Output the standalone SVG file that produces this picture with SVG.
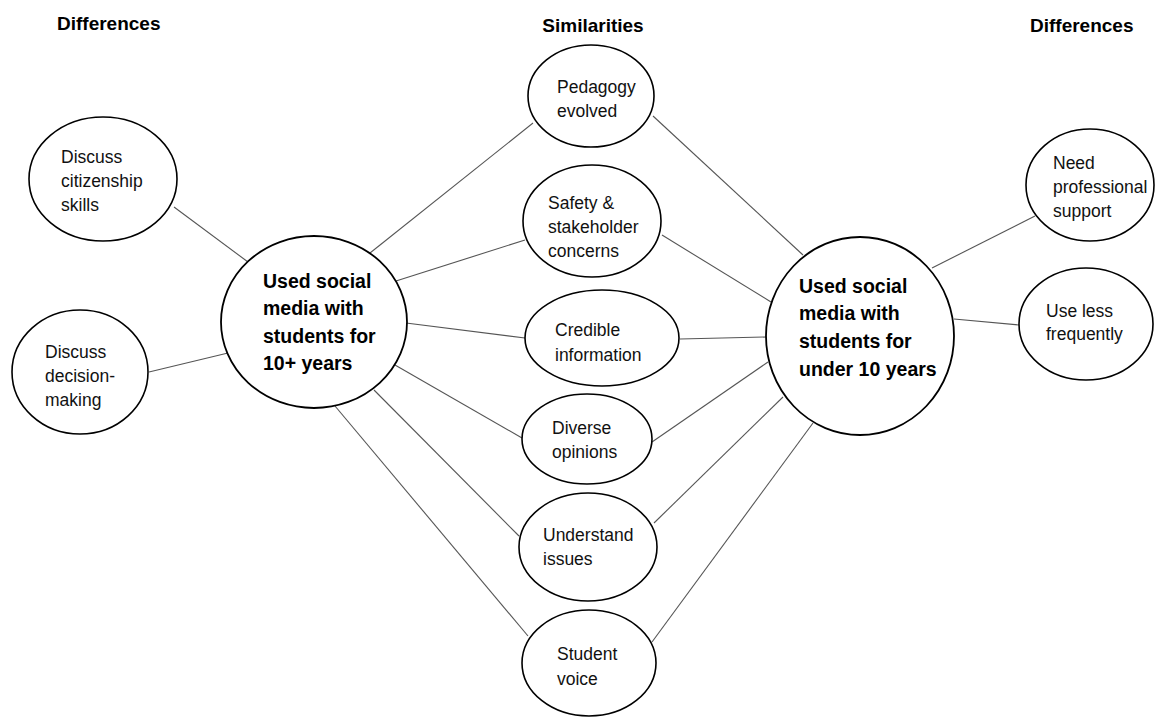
<svg xmlns="http://www.w3.org/2000/svg" width="1155" height="717" viewBox="0 0 1155 717">
  <style>
    .node { fill: #ffffff; stroke: #000000; stroke-width: 1.6; }
    .hub { fill: #ffffff; stroke: #000000; stroke-width: 1.8; }
    .edge { stroke: #555555; stroke-width: 1.1; fill: none; }
    .lbl { font-family: "Liberation Sans", Arial, sans-serif; font-size: 17.5px; fill: #111111; }
    .big { font-family: "Liberation Sans", Arial, sans-serif; font-size: 19.5px; font-weight: bold; fill: #000000; }
    .head { font-family: "Liberation Sans", Arial, sans-serif; font-size: 19px; font-weight: bold; fill: #000000; }
  </style>
  <rect width="1155" height="717" fill="#ffffff"/>

  <!-- column headings -->
  <g id="headings">
    <text class="head" x="57" y="30">Differences</text>
    <text class="head" x="593" y="32" text-anchor="middle">Similarities</text>
    <text class="head" x="1030" y="32">Differences</text>
  </g>

  <!-- connectors -->
  <g id="connectors">
    <line class="edge" x1="174" y1="207" x2="248" y2="262"/>
    <line class="edge" x1="149" y1="372" x2="228" y2="353"/>
    <line class="edge" x1="370" y1="253" x2="533" y2="123"/>
    <line class="edge" x1="396" y1="281" x2="525" y2="240"/>
    <line class="edge" x1="406" y1="323" x2="525" y2="338"/>
    <line class="edge" x1="395" y1="365" x2="522" y2="438"/>
    <line class="edge" x1="374" y1="390" x2="519" y2="536"/>
    <line class="edge" x1="335" y1="406" x2="528" y2="636"/>
    <line class="edge" x1="653" y1="116" x2="803" y2="255"/>
    <line class="edge" x1="662" y1="235" x2="771" y2="302"/>
    <line class="edge" x1="680" y1="339" x2="767" y2="337"/>
    <line class="edge" x1="652" y1="442" x2="768" y2="362"/>
    <line class="edge" x1="654" y1="523" x2="783" y2="397"/>
    <line class="edge" x1="652" y1="642" x2="813" y2="423"/>
    <line class="edge" x1="932" y1="268" x2="1035" y2="216"/>
    <line class="edge" x1="954" y1="319" x2="1019" y2="325"/>
  </g>

  <g id="citizenship">
    <ellipse class="node" cx="103" cy="179" rx="74" ry="62"/>
    <text class="lbl" x="61" y="163">Discuss</text>
    <text class="lbl" x="61" y="187">citizenship</text>
    <text class="lbl" x="61" y="211">skills</text>
  </g>

  <g id="decision-making">
    <ellipse class="node" cx="80" cy="372" rx="68" ry="62"/>
    <text class="lbl" x="45" y="358">Discuss</text>
    <text class="lbl" x="45" y="382">decision-</text>
    <text class="lbl" x="45" y="406">making</text>
  </g>

  <g id="over-10-years">
    <ellipse class="hub" cx="314" cy="322" rx="93" ry="86"/>
    <text class="big" x="263" y="288">Used social</text>
    <text class="big" x="263" y="315">media with</text>
    <text class="big" x="263" y="343">students for</text>
    <text class="big" x="263" y="370">10+ years</text>
  </g>

  <g id="pedagogy">
    <ellipse class="node" cx="591" cy="96" rx="63" ry="51"/>
    <text class="lbl" x="557" y="93">Pedagogy</text>
    <text class="lbl" x="557" y="117">evolved</text>
  </g>

  <g id="safety">
    <ellipse class="node" cx="592" cy="221" rx="69" ry="56"/>
    <text class="lbl" x="548" y="209">Safety &amp;</text>
    <text class="lbl" x="548" y="233">stakeholder</text>
    <text class="lbl" x="548" y="257">concerns</text>
  </g>

  <g id="credible">
    <ellipse class="node" cx="602" cy="338" rx="77" ry="48"/>
    <text class="lbl" x="555" y="336">Credible</text>
    <text class="lbl" x="555" y="361">information</text>
  </g>

  <g id="diverse">
    <ellipse class="node" cx="587" cy="439" rx="65" ry="45"/>
    <text class="lbl" x="552" y="434">Diverse</text>
    <text class="lbl" x="552" y="458">opinions</text>
  </g>

  <g id="understand">
    <ellipse class="node" cx="588" cy="547" rx="69" ry="54"/>
    <text class="lbl" x="543" y="541">Understand</text>
    <text class="lbl" x="543" y="565">issues</text>
  </g>

  <g id="student-voice">
    <ellipse class="node" cx="589" cy="663" rx="67" ry="53"/>
    <text class="lbl" x="557" y="660">Student</text>
    <text class="lbl" x="557" y="685">voice</text>
  </g>

  <g id="under-10-years">
    <ellipse class="hub" cx="860" cy="336" rx="94" ry="99"/>
    <text class="big" x="799" y="293">Used social</text>
    <text class="big" x="799" y="320">media with</text>
    <text class="big" x="799" y="348">students for</text>
    <text class="big" x="799" y="376">under 10 years</text>
  </g>

  <g id="professional-support">
    <ellipse class="node" cx="1090" cy="185" rx="64" ry="56"/>
    <text class="lbl" x="1053" y="169">Need</text>
    <text class="lbl" x="1053" y="193">professional</text>
    <text class="lbl" x="1053" y="217">support</text>
  </g>

  <g id="less-frequently">
    <ellipse class="node" cx="1086" cy="324" rx="67" ry="56"/>
    <text class="lbl" x="1046" y="317">Use less</text>
    <text class="lbl" x="1046" y="340">frequently</text>
  </g>
</svg>
